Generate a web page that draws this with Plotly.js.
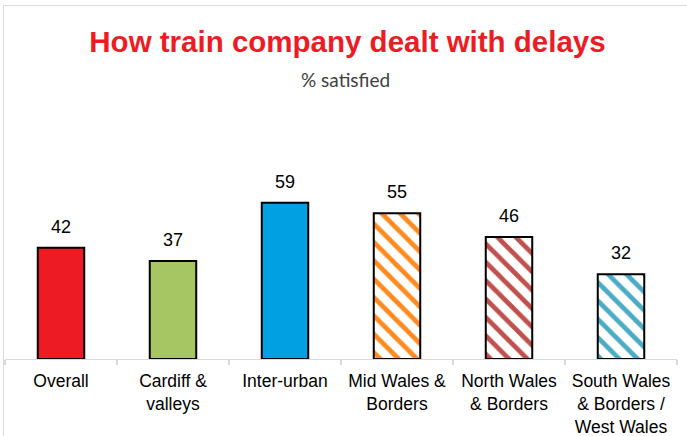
<!DOCTYPE html>
<html>
<head>
<meta charset="utf-8">
<script src="https://cdn.plot.ly/plotly-3.0.1.min.js"></script>
<style>
  html, body { margin: 0; padding: 0; background: #ffffff; }
  #wrap { position: relative; width: 687px; height: 436px; overflow: hidden; }
  #frame { position: absolute; left: 3px; top: 5px; width: 720px; height: 460px;
           border-left: 1.5px solid #d9d9d9; border-top: 1.5px solid #d9d9d9; }
  #chart { position: absolute; left: 0; top: 0; width: 687px; height: 436px; }
</style>
</head>
<body>
<div id="wrap">
  <div id="frame"></div>
  <div id="chart"></div>
</div>
<script>
const categories = [
  "Overall",
  "Cardiff &<br>valleys",
  "Inter-urban",
  "Mid Wales &<br>Borders",
  "North Wales<br>& Borders",
  "South Wales<br>& Borders /<br>West Wales"
];
const satisfied = [42, 37, 59, 55, 46, 32];
const fillColors = ["#ED1C24", "#A5C663", "#00A0E3", "#ffffff", "#ffffff", "#ffffff"];
const stripeColors = ["#ED1C24", "#A5C663", "#00A0E3", "#FF8A1F", "#C0504D", "#4BACC6"];
const stripeShapes = ["", "", "", "\\", "\\", "\\"];

const fontMain = "Arial, 'Liberation Sans', sans-serif";

const traces = categories.map((c, i) => ({
  type: "bar",
  x: [c],
  y: [satisfied[i]],
  width: 0.415,
  marker: {
    color: fillColors[i],
    line: { color: "#000000", width: 2 },
    pattern: {
      shape: stripeShapes[i],
      fgcolor: stripeColors[i],
      bgcolor: fillColors[i],
      fgopacity: 1,
      fillmode: "replace",
      size: 13,
      solidity: 0.36
    }
  },
  hoverinfo: "skip"
}));

const valueLabels = categories.map((c, i) => ({
  x: c, y: satisfied[i], xref: "x", yref: "y",
  text: String(satisfied[i]), showarrow: false,
  yanchor: "middle", yshift: 21,
  font: { family: fontMain, size: 18, color: "#000000" }
}));

const layout = {
  width: 687, height: 436,
  margin: { l: 5, r: 10, t: 94, b: 77, pad: 0 },
  paper_bgcolor: "rgba(0,0,0,0)",
  plot_bgcolor: "rgba(0,0,0,0)",
  showlegend: false,
  barmode: "overlay",
  title: {
    text: "How train company dealt with delays",
    font: { family: fontMain, size: 29.5, color: "#ED1C24", weight: "bold" },
    xref: "container", x: 347.5 / 687, xanchor: "center",
    yref: "container", y: 1 - 42 / 436, yanchor: "middle"
  },
  xaxis: {
    type: "category", categoryorder: "array", categoryarray: categories,
    showline: true, linecolor: "#d9d9d9", linewidth: 1.3,
    ticks: "outside", tickson: "boundaries", ticklen: 5, tickcolor: "#d9d9d9", tickwidth: 1.3,
    ticklabelstandoff: 6, tickangle: 0,
    tickfont: { family: fontMain, size: 17.5, color: "#000000" },
    showgrid: false, zeroline: false, fixedrange: true
  },
  yaxis: {
    range: [0, 100], visible: false, showgrid: false, zeroline: false, fixedrange: true
  },
  annotations: valueLabels.concat([{
    text: "% satisfied", showarrow: false,
    xref: "paper", x: (345 - 5) / 672, xanchor: "center",
    yref: "paper", y: (359 - 79) / 265, yanchor: "middle",
    font: { family: "Lato, 'Open Sans', sans-serif", size: 19, color: "#404040" }
  }])
};

Plotly.newPlot("chart", traces, layout, { displayModeBar: false, staticPlot: true });
</script>
</body>
</html>
